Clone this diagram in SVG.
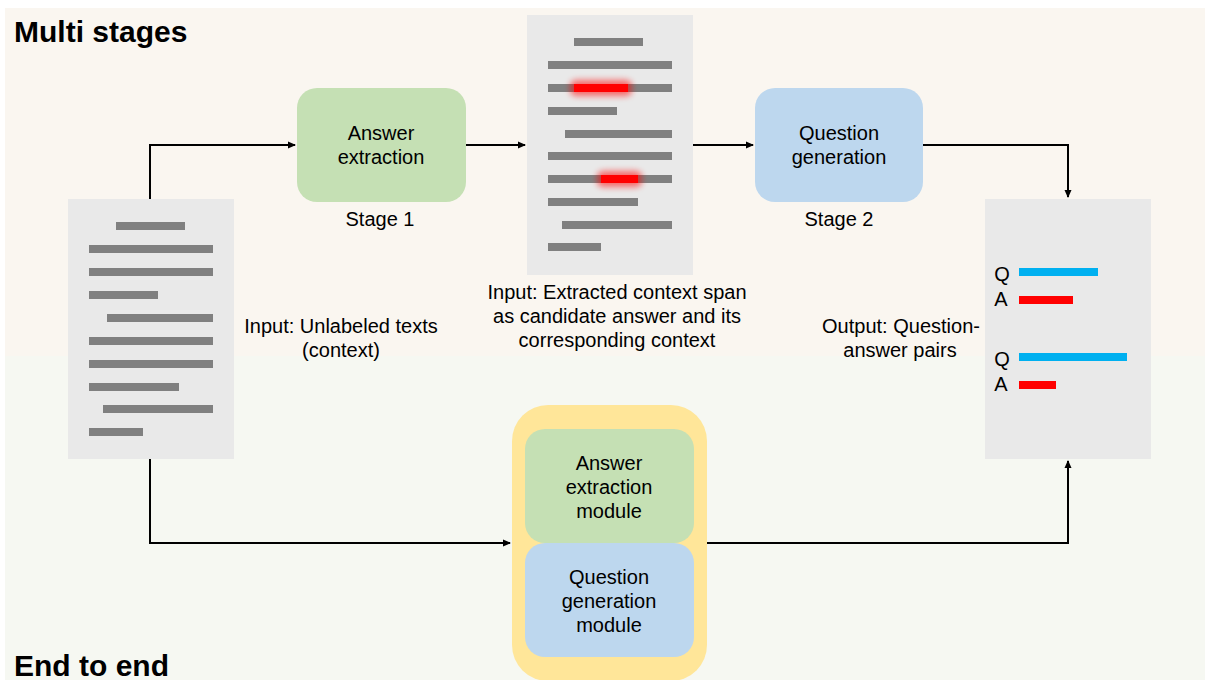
<svg xmlns="http://www.w3.org/2000/svg" width="1205" height="680" viewBox="0 0 1205 680">
<style>
.t{font-family:"Liberation Sans",Arial,sans-serif;font-size:20px;fill:#000;text-anchor:middle}
.h{font-family:"Liberation Sans",Arial,sans-serif;font-size:30px;font-weight:bold;fill:#000}
.doc{fill:#E9E9E9}
.ln{fill:#808080}
.c{fill:none;stroke:#000;stroke-width:2}
</style>
<defs>
<marker id="ah" markerWidth="8" markerHeight="8" refX="7" refY="4" orient="auto" markerUnits="userSpaceOnUse">
<path d="M0,0.5 L8,4 L0,7.5 Z" fill="#000"/>
</marker>
<filter id="glow" x="-50%" y="-100%" width="200%" height="300%">
<feGaussianBlur stdDeviation="3"/>
</filter>
</defs>
<rect x="0" y="0" width="1205" height="680" fill="#fff"/>
<rect x="5" y="8" width="1200" height="348" fill="#FAF6F0"/>
<rect x="5" y="356" width="1200" height="324" fill="#F6F8F2"/>
<text class="h" x="14" y="42">Multi stages</text>
<text class="h" x="14" y="676">End to end</text>

<g id="connectors">
<path class="c" d="M150,199 V145 H295" marker-end="url(#ah)"/>
<path class="c" d="M466,145 H525" marker-end="url(#ah)"/>
<path class="c" d="M693,145 H753" marker-end="url(#ah)"/>
<path class="c" d="M923,145 H1068 V197" marker-end="url(#ah)"/>
<path class="c" d="M150,459 V543 H510" marker-end="url(#ah)"/>
<path class="c" d="M707,543 H1068 V461" marker-end="url(#ah)"/>
</g>

<g id="input-doc">
<rect class="doc" x="68" y="199" width="166" height="260"/>
<rect class="ln" x="116" y="222" width="69" height="8"/>
<rect class="ln" x="89" y="245" width="124" height="8"/>
<rect class="ln" x="89" y="268" width="124" height="8"/>
<rect class="ln" x="89" y="291" width="69" height="8"/>
<rect class="ln" x="107" y="314" width="106" height="8"/>
<rect class="ln" x="89" y="337" width="124" height="8"/>
<rect class="ln" x="89" y="360" width="124" height="8"/>
<rect class="ln" x="89" y="383" width="90" height="8"/>
<rect class="ln" x="103" y="405" width="110" height="8"/>
<rect class="ln" x="89" y="428" width="54" height="8"/>
<text class="t" x="341" y="333">Input: Unlabeled texts</text>
<text class="t" x="341" y="357">(context)</text>
</g>

<g id="answer-extraction">
<rect x="297" y="88" width="169" height="114" rx="20" fill="#C5E0B4"/>
<text class="t" x="381" y="140">Answer</text>
<text class="t" x="381" y="164">extraction</text>
<text class="t" x="380" y="226">Stage 1</text>
</g>

<g id="context-doc">
<rect class="doc" x="527" y="15" width="166" height="260"/>
<rect class="ln" x="574" y="38" width="69" height="8"/>
<rect class="ln" x="548" y="61" width="124" height="8"/>
<rect class="ln" x="548" y="84" width="124" height="8"/>
<rect x="570" y="80" width="62" height="16" rx="6" fill="#FF0000" opacity="0.55" filter="url(#glow)"/>
<rect x="574" y="84" width="54" height="8" fill="#FF0000"/>
<rect class="ln" x="548" y="107" width="69" height="8"/>
<rect class="ln" x="565" y="130" width="107" height="8"/>
<rect class="ln" x="548" y="152" width="124" height="8"/>
<rect class="ln" x="548" y="175" width="124" height="8"/>
<rect x="597" y="171" width="45" height="16" rx="6" fill="#FF0000" opacity="0.55" filter="url(#glow)"/>
<rect x="601" y="175" width="37" height="8" fill="#FF0000"/>
<rect class="ln" x="548" y="198" width="90" height="8"/>
<rect class="ln" x="562" y="221" width="110" height="8"/>
<rect class="ln" x="548" y="243" width="53" height="8"/>
<text class="t" x="617" y="299">Input: Extracted context span</text>
<text class="t" x="617" y="323">as candidate answer and its</text>
<text class="t" x="617" y="347">corresponding context</text>
</g>

<g id="question-generation">
<rect x="755" y="88" width="168" height="114" rx="20" fill="#BDD7EE"/>
<text class="t" x="839" y="140">Question</text>
<text class="t" x="839" y="164">generation</text>
<text class="t" x="839" y="226">Stage 2</text>
</g>

<g id="output-doc">
<rect class="doc" x="985" y="199" width="166" height="260"/>
<text class="t" x="1002" y="281">Q</text>
<rect x="1019" y="268" width="79" height="8" fill="#00B0F0"/>
<text class="t" x="1001" y="306">A</text>
<rect x="1019" y="296" width="54" height="8" fill="#FF0000"/>
<text class="t" x="1002" y="366">Q</text>
<rect x="1019" y="353" width="108" height="8" fill="#00B0F0"/>
<text class="t" x="1001" y="391">A</text>
<rect x="1019" y="381" width="37" height="8" fill="#FF0000"/>
<text class="t" x="901" y="333">Output: Question-</text>
<text class="t" x="900" y="357">answer pairs</text>
</g>

<g id="end-to-end-model">
<rect x="512" y="405" width="195" height="276" rx="36" fill="#FFE699"/>
<g id="answer-extraction-module">
<rect x="525" y="429" width="169" height="114" rx="20" fill="#C5E0B4"/>
<text class="t" x="609" y="470">Answer</text>
<text class="t" x="609" y="494">extraction</text>
<text class="t" x="609" y="518">module</text>
</g>
<g id="question-generation-module">
<rect x="525" y="543" width="169" height="114" rx="20" fill="#BDD7EE"/>
<text class="t" x="609" y="584">Question</text>
<text class="t" x="609" y="608">generation</text>
<text class="t" x="609" y="632">module</text>
</g>
</g>
</svg>
